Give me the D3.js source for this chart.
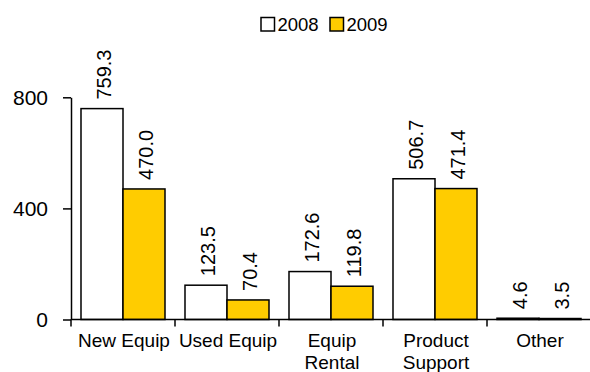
<!DOCTYPE html>
<html>
<head>
<meta charset="utf-8">
<script src="https://cdn.jsdelivr.net/npm/d3@7"></script>
<style>
  html, body { margin: 0; padding: 0; background: #fff; }
  svg text { font-family: "Liberation Sans", Arial, sans-serif; fill: #000; }
</style>
</head>
<body>
<svg id="chart" width="590" height="372"></svg>
<script>
// Revenue by segment, 2008 vs 2009
const categories = [["New Equip"], ["Used Equip"], ["Equip", "Rental"], ["Product", "Support"], ["Other"]];
const seriesNames = ["2008", "2009"];
const values2008 = [759.3, 123.5, 172.6, 506.7, 4.6];
const values2009 = [470.0, 70.4, 119.8, 471.4, 3.5];
const yTicks = [0, 400, 800];

const seriesValues = [values2008, values2009];
const seriesColors = ["#ffffff", "#ffcc00"];
const catKeys = categories.map(c => c.join(" "));

const svg = d3.select("#chart");
const plotLeft = 71, plotRight = 591, plotTop = 97.3, plotBottom = 319.5;

const x = d3.scaleBand().domain(catKeys).range([plotLeft, plotRight]).paddingInner(0).paddingOuter(0);
const x1 = d3.scaleBand().domain(seriesNames).range([0, x.bandwidth()]).paddingInner(0).paddingOuter(0.238);
const y = d3.scaleLinear().domain([0, 800]).range([plotBottom, plotTop]);

// Bars
const groups = svg.append("g").selectAll("g")
  .data(catKeys)
  .join("g")
  .attr("transform", d => `translate(${x(d)},0)`);

groups.selectAll("rect")
  .data((d, i) => seriesNames.map((s, j) => ({ s, v: seriesValues[j][i], j })))
  .join("rect")
  .attr("x", d => x1(d.s))
  .attr("y", d => y(d.v))
  .attr("width", x1.bandwidth())
  .attr("height", d => y(0) - y(d.v))
  .attr("fill", d => seriesColors[d.j])
  .attr("stroke", "#000")
  .attr("stroke-width", 1.5);

// Value labels, rotated above each bar
groups.selectAll("text.val")
  .data((d, i) => seriesNames.map((s, j) => ({ s, v: seriesValues[j][i] })))
  .join("text")
  .attr("class", "val")
  .attr("transform", d => `translate(${x1(d.s) + x1.bandwidth() / 2 + 2},${y(d.v) - 9}) rotate(-90)`)
  .attr("dy", "0.36em")
  .attr("text-anchor", "start")
  .style("font-size", "20px")
  .text(d => d.v.toFixed(1));

// Y axis
const yAxis = svg.append("g")
  .attr("transform", `translate(${plotLeft},0)`)
  .call(d3.axisLeft(y).tickValues(yTicks).tickFormat(d3.format("d")).tickSize(8).tickSizeOuter(0).tickPadding(15));
yAxis.select(".domain").attr("stroke", "#000").attr("stroke-width", 1.5);
yAxis.selectAll(".tick line").attr("stroke", "#000").attr("stroke-width", 1.5);
yAxis.selectAll(".tick text").style("font-size", "21px").attr("font-family", null);

// X axis baseline with ticks at category boundaries
const xAxis = svg.append("g");
xAxis.append("line")
  .attr("x1", plotLeft).attr("x2", plotRight)
  .attr("y1", y(0)).attr("y2", y(0))
  .attr("stroke", "#000").attr("stroke-width", 1.5);
const bounds = catKeys.map(k => x(k)).concat([plotRight]);
xAxis.selectAll("line.tk")
  .data(bounds)
  .join("line")
  .attr("class", "tk")
  .attr("x1", d => d).attr("x2", d => d)
  .attr("y1", y(0)).attr("y2", y(0) + 7)
  .attr("stroke", "#000").attr("stroke-width", 1.5);

// Category labels
const catLabels = xAxis.selectAll("text.cat")
  .data(categories)
  .join("text")
  .attr("class", "cat")
  .attr("x", (d, i) => x(catKeys[i]) + x.bandwidth() / 2 + 1)
  .attr("y", 346.5)
  .attr("text-anchor", "middle")
  .style("font-size", "19px");
catLabels.selectAll("tspan")
  .data(d => d)
  .join("tspan")
  .attr("x", function () { return d3.select(this.parentNode).attr("x"); })
  .attr("dy", (d, i) => i === 0 ? 0 : 22.5)
  .text(d => d);

// Legend
const legend = svg.append("g");
const legendItems = [{ name: seriesNames[0], x: 261 }, { name: seriesNames[1], x: 330 }];
legendItems.forEach((it, j) => {
  legend.append("rect")
    .attr("x", it.x).attr("y", 17.5)
    .attr("width", 13.5).attr("height", 13.5)
    .attr("fill", seriesColors[j])
    .attr("stroke", "#000").attr("stroke-width", 1.5);
  legend.append("text")
    .attr("x", it.x + 16.5).attr("y", 31)
    .style("font-size", "18.5px")
    .text(it.name);
});
</script>
</body>
</html>
